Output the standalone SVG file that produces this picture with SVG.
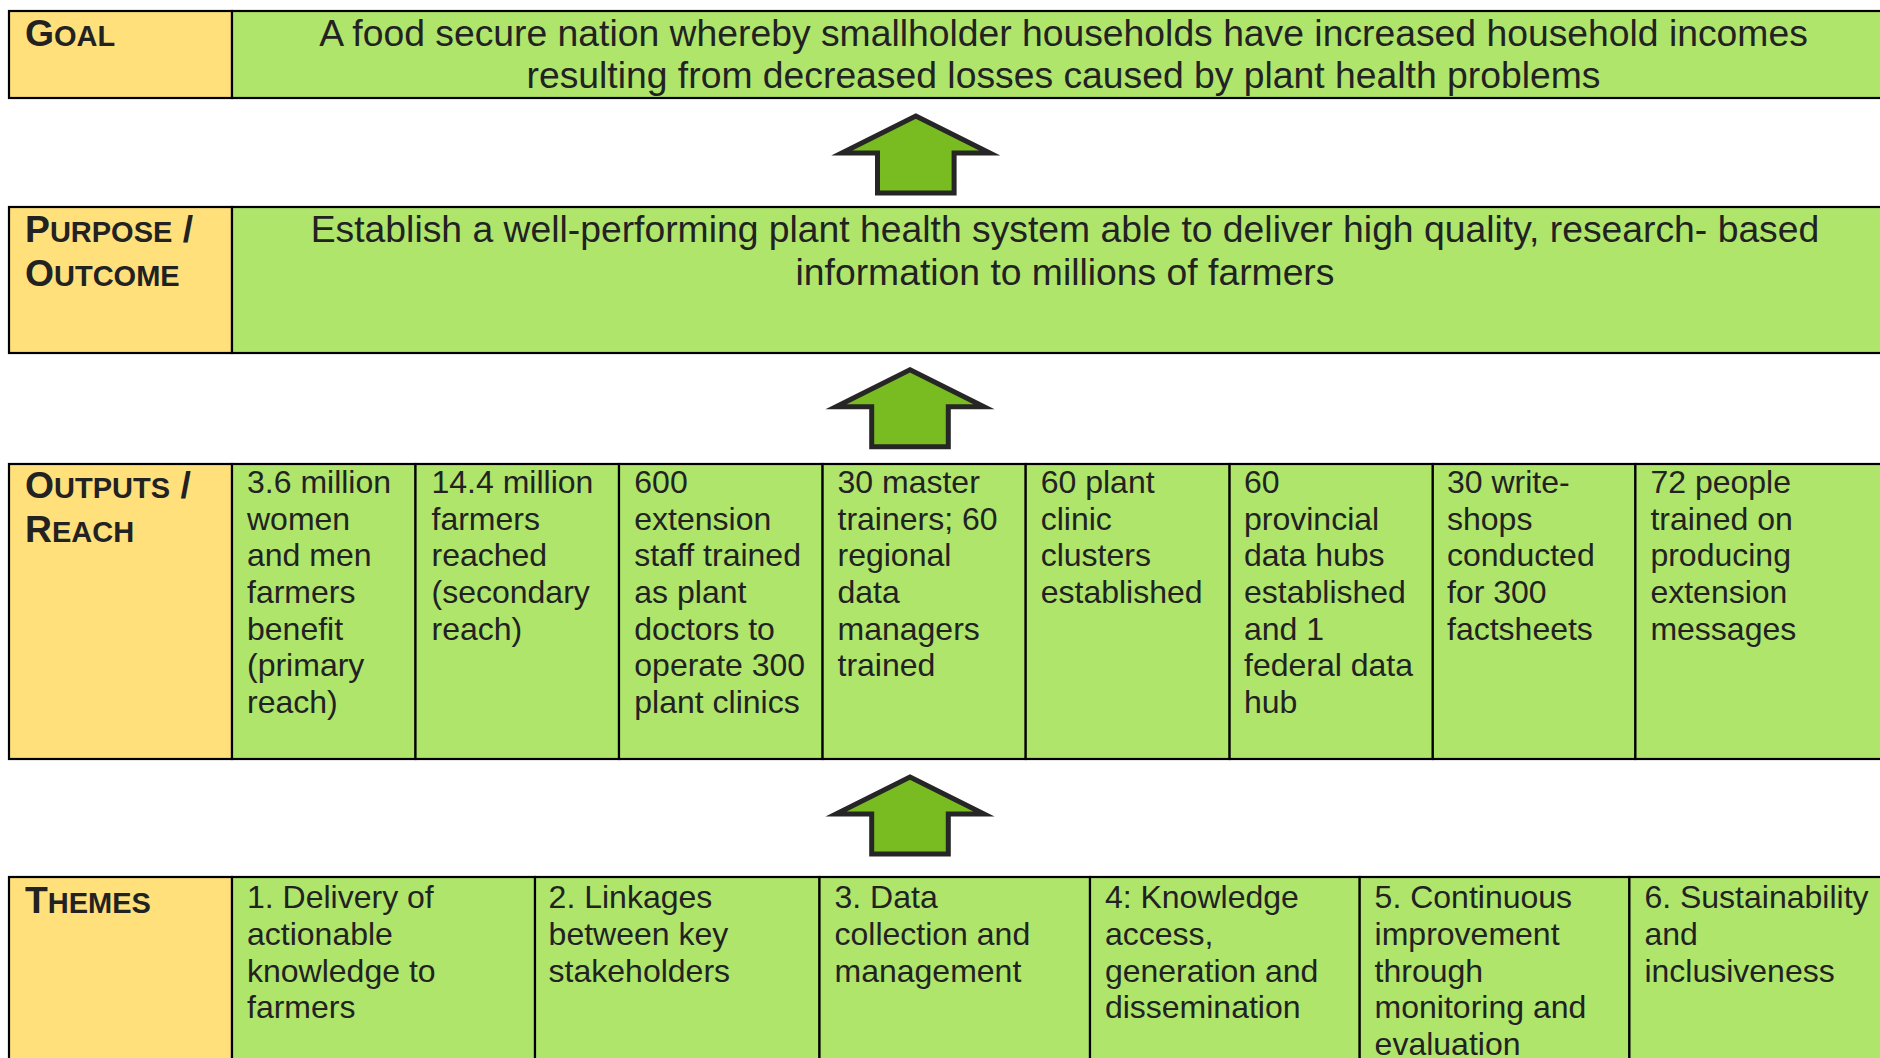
<svg xmlns="http://www.w3.org/2000/svg" width="1880" height="1058" viewBox="0 0 1880 1058">
<style>
.lab{fill:#FFE07B;stroke:#000;stroke-width:2.2}
.cell{fill:#AFE56B;stroke:#000;stroke-width:2.2}
.arrow{fill:#78BC21;stroke:#262626;stroke-width:5;stroke-linejoin:miter;stroke-miterlimit:10}
text{font-family:"Liberation Sans",Arial,sans-serif;fill:#222}
.h{font-weight:bold;font-size:37.3px}
.h tspan.s{font-size:29px}
.big{font-size:37.3px}
.body{font-size:32px}
</style>
<defs>
<path id="up" d="M0,3 L74,40 L38.3,40 L38.3,80 L-38.3,80 L-38.3,40 L-74,40 Z"/>
</defs>
<rect width="1880" height="1058" fill="#fff"/>

<g id="goal">
<rect class="lab" x="9" y="11" width="223" height="87"/>
<rect class="cell" x="232" y="11" width="1670" height="87"/>
<text class="h" x="25" y="45.7">G<tspan class="s">OAL</tspan></text>
<text class="big" text-anchor="middle" x="1063.5"><tspan x="1063.5" y="45.7">A food secure nation whereby smallholder households have increased household incomes</tspan><tspan x="1063.5" y="88.3">resulting from decreased losses caused by plant health problems</tspan></text>
</g>

<g id="purpose">
<rect class="lab" x="9" y="207" width="223" height="146"/>
<rect class="cell" x="232" y="207" width="1670" height="146"/>
<text class="h" x="25" y="241.7">P<tspan class="s">URPOSE</tspan> /</text>
<text class="h" x="25" y="285.5">O<tspan class="s">UTCOME</tspan></text>
<text class="big" text-anchor="middle"><tspan x="1065" y="241.7">Establish a well-performing plant health system able to deliver high quality, research- based</tspan><tspan x="1065" y="285">information to millions of farmers</tspan></text>
</g>

<g id="outputs">
<rect class="lab" x="9" y="464" width="223" height="295"/>
<rect class="cell" x="232" y="464" width="183.5" height="295"/>
<rect class="cell" x="415.5" y="464" width="203.5" height="295"/>
<rect class="cell" x="619" y="464" width="203.6" height="295"/>
<rect class="cell" x="822.6" y="464" width="203.1" height="295"/>
<rect class="cell" x="1025.7" y="464" width="203.9" height="295"/>
<rect class="cell" x="1229.6" y="464" width="203.2" height="295"/>
<rect class="cell" x="1432.8" y="464" width="202.6" height="295"/>
<rect class="cell" x="1635.4" y="464" width="270" height="295"/>
<text class="h" x="25" y="498.3">O<tspan class="s">UTPUTS</tspan> /</text>
<text class="h" x="25" y="541.5">R<tspan class="s">EACH</tspan></text>
<text class="body"><tspan x="247" y="493">3.6 million</tspan><tspan x="247" y="529.7">women</tspan><tspan x="247" y="566.3">and men</tspan><tspan x="247" y="603">farmers</tspan><tspan x="247" y="639.7">benefit</tspan><tspan x="247" y="676.3">(primary</tspan><tspan x="247" y="713">reach)</tspan></text>
<text class="body"><tspan x="431.5" y="493">14.4 million</tspan><tspan x="431.5" y="529.7">farmers</tspan><tspan x="431.5" y="566.3">reached</tspan><tspan x="431.5" y="603">(secondary</tspan><tspan x="431.5" y="639.7">reach)</tspan></text>
<text class="body"><tspan x="634.3" y="493">600</tspan><tspan x="634.3" y="529.7">extension</tspan><tspan x="634.3" y="566.3">staff trained</tspan><tspan x="634.3" y="603">as plant</tspan><tspan x="634.3" y="639.7">doctors to</tspan><tspan x="634.3" y="676.3">operate 300</tspan><tspan x="634.3" y="713">plant clinics</tspan></text>
<text class="body"><tspan x="837.5" y="493">30 master</tspan><tspan x="837.5" y="529.7">trainers; 60</tspan><tspan x="837.5" y="566.3">regional</tspan><tspan x="837.5" y="603">data</tspan><tspan x="837.5" y="639.7">managers</tspan><tspan x="837.5" y="676.3">trained</tspan></text>
<text class="body"><tspan x="1040.7" y="493">60 plant</tspan><tspan x="1040.7" y="529.7">clinic</tspan><tspan x="1040.7" y="566.3">clusters</tspan><tspan x="1040.7" y="603">established</tspan></text>
<text class="body"><tspan x="1244" y="493">60</tspan><tspan x="1244" y="529.7">provincial</tspan><tspan x="1244" y="566.3">data hubs</tspan><tspan x="1244" y="603">established</tspan><tspan x="1244" y="639.7">and 1</tspan><tspan x="1244" y="676.3">federal data</tspan><tspan x="1244" y="713">hub</tspan></text>
<text class="body"><tspan x="1447" y="493">30 write-</tspan><tspan x="1447" y="529.7">shops</tspan><tspan x="1447" y="566.3">conducted</tspan><tspan x="1447" y="603">for 300</tspan><tspan x="1447" y="639.7">factsheets</tspan></text>
<text class="body"><tspan x="1650.4" y="493">72 people</tspan><tspan x="1650.4" y="529.7">trained on</tspan><tspan x="1650.4" y="566.3">producing</tspan><tspan x="1650.4" y="603">extension</tspan><tspan x="1650.4" y="639.7">messages</tspan></text>
</g>

<g id="themes">
<rect class="lab" x="9" y="877" width="223" height="200"/>
<rect class="cell" x="232" y="877" width="303" height="200"/>
<rect class="cell" x="535" y="877" width="284.5" height="200"/>
<rect class="cell" x="819.5" y="877" width="270.5" height="200"/>
<rect class="cell" x="1090" y="877" width="269.7" height="200"/>
<rect class="cell" x="1359.7" y="877" width="269.7" height="200"/>
<rect class="cell" x="1629.4" y="877" width="280" height="200"/>
<text class="h" x="25" y="913.3">T<tspan class="s">HEMES</tspan></text>
<text class="body"><tspan x="247" y="908.3">1. Delivery of</tspan><tspan x="247" y="945">actionable</tspan><tspan x="247" y="981.7">knowledge to</tspan><tspan x="247" y="1018.3">farmers</tspan></text>
<text class="body"><tspan x="548.6" y="908.3">2. Linkages</tspan><tspan x="548.6" y="945">between key</tspan><tspan x="548.6" y="981.7">stakeholders</tspan></text>
<text class="body"><tspan x="834.5" y="908.3">3. Data</tspan><tspan x="834.5" y="945">collection and</tspan><tspan x="834.5" y="981.7">management</tspan></text>
<text class="body"><tspan x="1104.9" y="908.3">4: Knowledge</tspan><tspan x="1104.9" y="945">access,</tspan><tspan x="1104.9" y="981.7">generation and</tspan><tspan x="1104.9" y="1018.3">dissemination</tspan></text>
<text class="body"><tspan x="1374.6" y="908.3">5. Continuous</tspan><tspan x="1374.6" y="945">improvement</tspan><tspan x="1374.6" y="981.7">through</tspan><tspan x="1374.6" y="1018.3">monitoring and</tspan><tspan x="1374.6" y="1055">evaluation</tspan></text>
<text class="body"><tspan x="1644.4" y="908.3">6. Sustainability</tspan><tspan x="1644.4" y="945">and</tspan><tspan x="1644.4" y="981.7">inclusiveness</tspan></text>
</g>

<g id="connectors">
<use href="#up" class="arrow" transform="translate(915.8,113)"/>
<use href="#up" class="arrow" transform="translate(910,366.7)"/>
<use href="#up" class="arrow" transform="translate(910,774)"/>
</g>
</svg>
